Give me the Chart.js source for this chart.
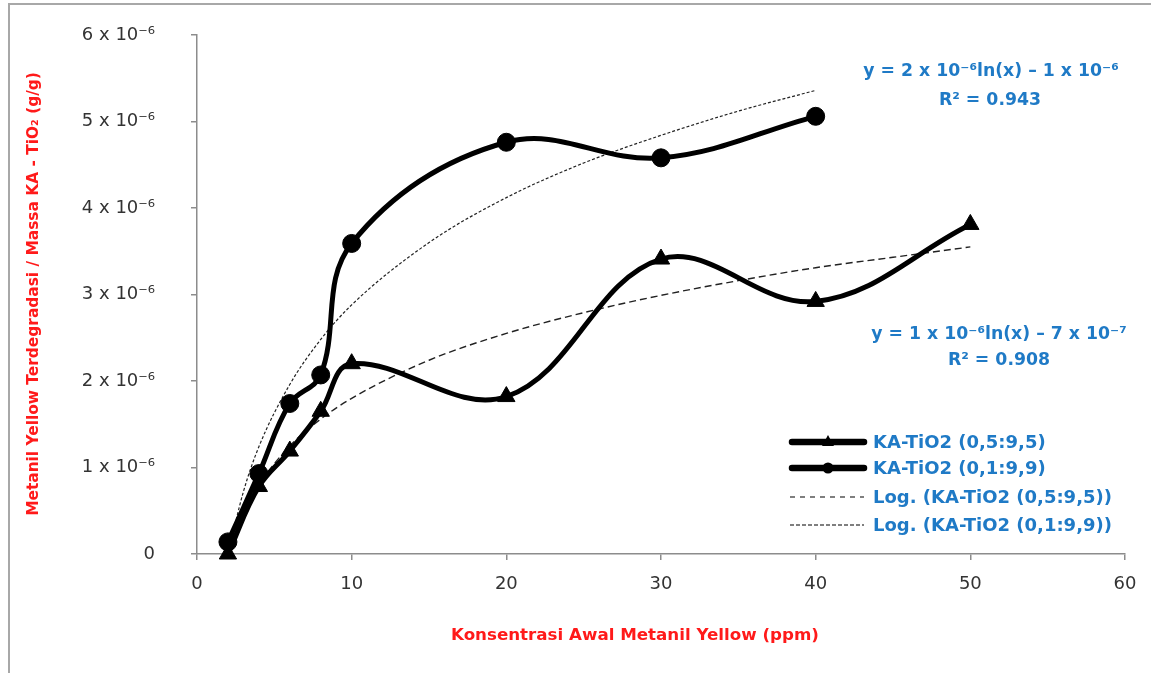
<!DOCTYPE html>
<html>
<head>
<meta charset="utf-8">
<script src="https://cdn.jsdelivr.net/npm/chart.js@4.4.0/dist/chart.umd.min.js"></script>
<style>
html,body{margin:0;padding:0;background:#fff;}
#wrap{width:1151px;height:673px;position:relative;}
</style>
</head>
<body>
<div id="wrap"><canvas id="grafik"></canvas></div>
<script>
// ===== data =====
const konsentrasi05 = [2, 4, 6, 8, 10, 20, 30, 40, 50];
const serapan05 = [0, 0.78e-6, 1.19e-6, 1.65e-6, 2.2e-6, 1.82e-6, 3.41e-6, 2.92e-6, 3.81e-6];

const konsentrasi01 = [2, 4, 6, 8, 10, 20, 30, 40];
const serapan01 = [0.14e-6, 0.93e-6, 1.74e-6, 2.07e-6, 3.59e-6, 4.76e-6, 4.58e-6, 5.06e-6];

// garis trend logaritmik
const trendX05 = [2, 3, 4, 6, 8, 10, 15, 20, 25, 30, 35, 40, 45, 50];
const trendY05 = [0.05e-6, 0.49e-6, 0.8e-6, 1.25e-6, 1.56e-6, 1.8e-6, 2.24e-6, 2.55e-6, 2.79e-6, 2.99e-6, 3.16e-6, 3.31e-6, 3.43e-6, 3.55e-6];

const trendX01 = [2, 3, 4, 6, 8, 10, 15, 20, 25, 30, 35, 40];
const trendY01 = [0.0, 0.72e-6, 1.24e-6, 1.96e-6, 2.48e-6, 2.88e-6, 3.6e-6, 4.12e-6, 4.52e-6, 4.84e-6, 5.12e-6, 5.36e-6];

const labelSumbuY = ["0", "1 x 10⁻⁶", "2 x 10⁻⁶", "3 x 10⁻⁶", "4 x 10⁻⁶", "5 x 10⁻⁶", "6 x 10⁻⁶"];
const labelLegend = ["KA-TiO2 (0,5:9,5)", "KA-TiO2 (0,1:9,9)", "Log. (KA-TiO2 (0,5:9,5))", "Log. (KA-TiO2 (0,1:9,9))"];

const BIRU = "#1f7ac6";
const MERAH = "#ff1a1a";
const ABU = "#8c8c8c";

function titik(xs, ys) {
  return xs.map((x, i) => ({x: x, y: ys[i]}));
}

/* latar, judul sumbu, persamaan, legend */

const hiasan = {
  id: "hiasan",
  beforeDraw(chart) {
    const ctx = chart.ctx;
    ctx.save();
    ctx.fillStyle = "#fff";
    ctx.fillRect(0, 0, chart.width, chart.height);
    ctx.strokeStyle = "#a8a8a8";
    ctx.lineWidth = 2;
    ctx.beginPath();
    ctx.moveTo(9, chart.height);
    ctx.lineTo(9, 4);
    ctx.lineTo(chart.width, 4);
    ctx.stroke();
    ctx.restore();
  },
  afterDraw(chart) {
    const ctx = chart.ctx;
    ctx.save();
    ctx.textAlign = "center";
    ctx.textBaseline = "middle";

    // judul sumbu
    ctx.fillStyle = MERAH;
    ctx.font = "bold 16.7px 'DejaVu Sans'";
    ctx.fillText("Konsentrasi Awal Metanil Yellow (ppm)", 635, 636);

    ctx.save();
    ctx.translate(34, 294);
    ctx.rotate(-Math.PI / 2);
    ctx.font = "bold 15.4px 'DejaVu Sans'";
    ctx.fillText("Metanil Yellow Terdegradasi / Massa KA - TiO₂ (g/g)", 0, 0);
    ctx.restore();

    // persamaan trend
    ctx.fillStyle = BIRU;
    ctx.font = "bold 17.3px 'DejaVu Sans'";
    ctx.fillText("y = 2 x 10⁻⁶ln(x) – 1 x 10⁻⁶", 991, 72);
    ctx.fillText("R² = 0.943", 990, 101);
    ctx.fillText("y = 1 x 10⁻⁶ln(x) – 7 x 10⁻⁷", 999, 335);
    ctx.fillText("R² = 0.908", 999, 361);

    // legend
    const barisY = [442, 468, 497, 525];
    ctx.textAlign = "left";
    ctx.font = "bold 18px 'DejaVu Sans'";
    chart.data.datasets.forEach((ds, i) => {
      const y = barisY[i];
      ctx.save();
      ctx.strokeStyle = "#000";
      ctx.lineWidth = i < 2 ? 6.5 : 1.2;
      ctx.lineCap = i < 2 ? "round" : "butt";
      ctx.setLineDash(i === 2 ? [5, 5] : i === 3 ? [4, 2] : []);
      ctx.beginPath();
      ctx.moveTo(i < 2 ? 792 : 790, y);
      ctx.lineTo(864, y);
      ctx.stroke();
      ctx.setLineDash([]);
      ctx.fillStyle = "#000";
      if (ds.pointStyle === "circle") {
        ctx.beginPath();
        ctx.arc(828, y, 5.5, 0, Math.PI * 2);
        ctx.fill();
      } else if (ds.pointStyle === "triangle") {
        ctx.beginPath();
        ctx.moveTo(828, y - 7);
        ctx.lineTo(834, y + 4);
        ctx.lineTo(822, y + 4);
        ctx.closePath();
        ctx.fill();
      }
      ctx.restore();
      ctx.fillStyle = BIRU;
      ctx.fillText(labelLegend[i], 873, y + 1);
    });
    ctx.restore();
  }
};

new Chart(document.getElementById("grafik"), {
  type: "line",
  data: {
    datasets: [
      {
        label: labelLegend[0],
        data: titik(konsentrasi05, serapan05),
        borderColor: "#000",
        backgroundColor: "#000",
        borderWidth: 5,
        borderCapStyle: "round",
        borderJoinStyle: "round",
        tension: 0.38,
        pointStyle: "triangle",
        pointRadius: 10,
        pointBorderWidth: 1,
        pointBackgroundColor: "#000",
        clip: false
      },
      {
        label: labelLegend[1],
        data: titik(konsentrasi01, serapan01),
        borderColor: "#000",
        backgroundColor: "#000",
        borderWidth: 5,
        borderCapStyle: "round",
        borderJoinStyle: "round",
        tension: 0.38,
        pointStyle: "circle",
        pointRadius: 9,
        pointBorderWidth: 1,
        pointBackgroundColor: "#000",
        clip: false
      },
      {
        label: labelLegend[2],
        data: titik(trendX05, trendY05),
        borderColor: "#222",
        borderWidth: 1.4,
        borderDash: [7, 4],
        cubicInterpolationMode: "monotone",
        pointRadius: 0
      },
      {
        label: labelLegend[3],
        data: titik(trendX01, trendY01),
        borderColor: "#222",
        borderWidth: 1.2,
        borderDash: [3, 2],
        cubicInterpolationMode: "monotone",
        pointRadius: 0
      }
    ]
  },
  options: {
    responsive: true,
    maintainAspectRatio: false,
    animation: false,
    layout: {padding: {left: 0, right: 26, top: 35, bottom: 0}},
    plugins: {
      legend: {display: false},
      tooltip: {enabled: false}
    },
    scales: {
      x: {
        type: "linear",
        min: 0,
        max: 60,
        afterFit(s) { s.height = 119; },
        ticks: {
          stepSize: 10,
          padding: 14,
          color: "#333",
          font: {family: "DejaVu Sans", size: 18}
        },
        grid: {drawOnChartArea: false, drawTicks: true, tickLength: 6, color: ABU, lineWidth: 1.5},
        border: {color: ABU, width: 1.5}
      },
      y: {
        type: "linear",
        min: 0,
        max: 6e-6,
        afterFit(s) {
          s.width = 197;
          s.paddingTop = 0;
          s.paddingBottom = 0;
        },
        ticks: {
          stepSize: 1e-6,
          padding: 36,
          color: "#333",
          font: {family: "DejaVu Sans", size: 18},
          callback: v => labelSumbuY[Math.round(v * 1e6)]
        },
        grid: {drawOnChartArea: false, drawTicks: true, tickLength: 6, color: ABU, lineWidth: 1.5},
        border: {color: ABU, width: 1.5}
      }
    }
  },
  plugins: [hiasan]
});
</script>
</body>
</html>
